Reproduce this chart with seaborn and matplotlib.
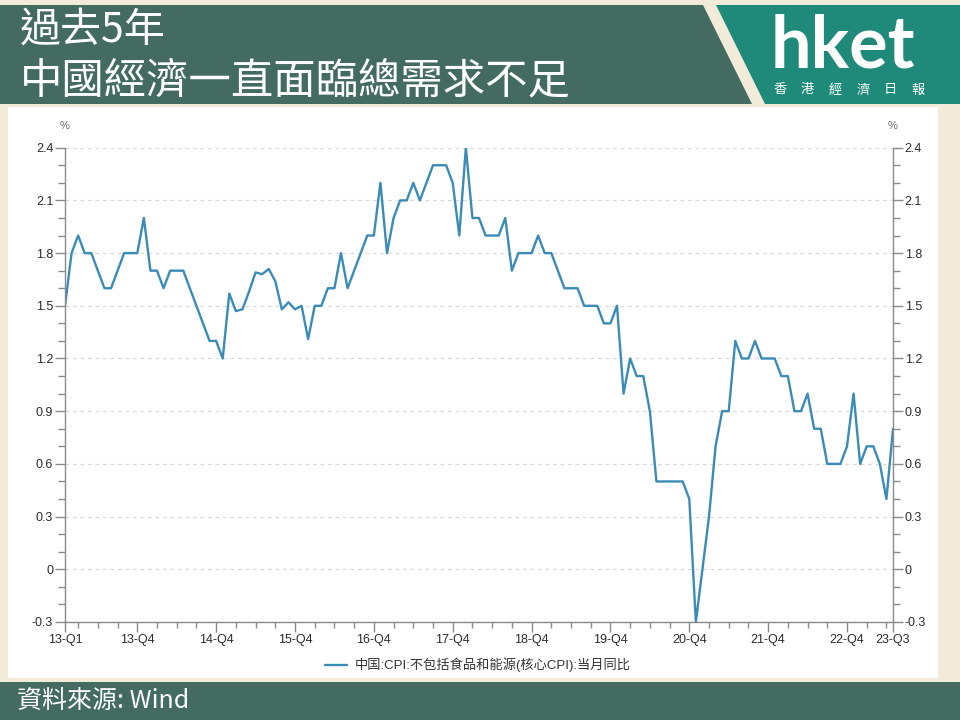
import numpy as np
import pandas as pd
import matplotlib
matplotlib.use("Agg")
import matplotlib.pyplot as plt
from matplotlib.patches import Polygon
from matplotlib.ticker import FixedLocator, MultipleLocator
import seaborn as sns

# data: China core CPI (ex food & energy), YoY %, monthly Jan 2013 - Jul 2023
core_cpi = [1.5, 1.8, 1.9, 1.8, 1.8, 1.7, 1.6, 1.6, 1.7, 1.8, 1.8, 1.8,
            2.0, 1.7, 1.7, 1.6, 1.7, 1.7, 1.7, 1.6, 1.5, 1.4, 1.3, 1.3,
            1.2, 1.57, 1.47, 1.48, 1.58, 1.69, 1.68, 1.71, 1.64, 1.48, 1.52, 1.48,
            1.5, 1.31, 1.5, 1.5, 1.6, 1.6, 1.8, 1.6, 1.7, 1.8, 1.9, 1.9,
            2.2, 1.8, 2.0, 2.1, 2.1, 2.2, 2.1, 2.2, 2.3, 2.3, 2.3, 2.2,
            1.9, 2.4, 2.0, 2.0, 1.9, 1.9, 1.9, 2.0, 1.7, 1.8, 1.8, 1.8,
            1.9, 1.8, 1.8, 1.7, 1.6, 1.6, 1.6, 1.5, 1.5, 1.5, 1.4, 1.4,
            1.5, 1.0, 1.2, 1.1, 1.1, 0.9, 0.5, 0.5, 0.5, 0.5, 0.5, 0.4,
            -0.3, 0.0, 0.3, 0.7, 0.9, 0.9, 1.3, 1.2, 1.2, 1.3, 1.2, 1.2,
            1.2, 1.1, 1.1, 0.9, 0.9, 1.0, 0.8, 0.8, 0.6, 0.6, 0.6, 0.7,
            1.0, 0.6, 0.7, 0.7, 0.6, 0.4, 0.8]
months = pd.date_range("2013-01-01", periods=len(core_cpi), freq="MS")
xtick_pos = [0, 11, 23, 35, 47, 59, 71, 83, 95, 107, 119, 126]
xtick_labels = ["13-Q1", "13-Q4", "14-Q4", "15-Q4", "16-Q4", "17-Q4",
                "18-Q4", "19-Q4", "20-Q4", "21-Q4", "22-Q4", "23-Q3"]
series_name = "中国:CPI:不包括食品和能源(核心CPI):当月同比"
title_lines = ["過去5年", "中國經濟一直面臨總需求不足"]
source_text = "資料來源: Wind"

df = pd.DataFrame({"month": months, "idx": np.arange(len(core_cpi)), "value": core_cpi})

sns.set_style("white")
plt.rcParams["font.family"] = ["Liberation Sans", "Noto Sans CJK SC", "DejaVu Sans"]

W, H = 960, 720
cream = "#f2ebda"
dark = "#436b61"
teal = "#1f8a7a"
blue = "#3a8bb5"

fig = plt.figure(figsize=(W / 100, H / 100), dpi=100, facecolor=cream)

def fx(px):
    return px / W

def fy(py):
    return 1 - py / H

def poly(pts, color):
    fig.patches.append(Polygon([(fx(a), fy(b)) for a, b in pts], closed=True,
                               transform=fig.transFigure, facecolor=color,
                               edgecolor="none", zorder=-5))

# header bands, white panel, footer
poly([(0, 5), (703, 5), (752, 104), (0, 104)], dark)
poly([(716, 5), (960, 5), (960, 104), (765, 104)], teal)
poly([(8, 107), (938, 107), (938, 678), (8, 678)], "white")
poly([(0, 682), (960, 682), (960, 720), (0, 720)], dark)

cjk = ["Noto Sans CJK TC", "DejaVu Sans"]
fig.text(fx(20), fy(30), title_lines[0], color="white", fontsize=29.5, va="center",
         family=cjk)
fig.text(fx(20), fy(81), title_lines[1], color="white", fontsize=30.5, va="center",
         family=cjk)
fig.text(fx(771), fy(68), "hket", color="white", fontsize=52, fontweight="bold",
         va="baseline", family=["Lato", "DejaVu Sans"])
for i, ch in enumerate("香港經濟日報"):
    fig.text(fx(780 + i * 27.6), fy(90), ch, color="white", fontsize=9.5,
             ha="center", va="center", family=cjk)
fig.text(fx(17), fy(701), source_text, color="white", fontsize=18, va="center",
         family=cjk)

# chart
ax = fig.add_axes([fx(65), fy(622), fx(893 - 65), (622 - 147.7) / H])
ax.set_facecolor("none")
sns.lineplot(data=df, x="idx", y="value", ax=ax, color=blue, linewidth=1.7,
             label=series_name)

ax.set_xlim(0, len(core_cpi) - 1)
ax.set_ylim(-0.3, 2.4)
yticks = np.round(np.arange(-0.3, 2.41, 0.3), 1)
ax.yaxis.set_major_locator(FixedLocator(yticks))
ax.yaxis.set_minor_locator(MultipleLocator(0.1))
ax.set_yticklabels([f"{v:g}" for v in yticks])
ax.xaxis.set_major_locator(FixedLocator(xtick_pos))
ax.set_xticklabels(xtick_labels)
minor_x = [m for m in range(2, len(core_cpi), 3) if m not in xtick_pos]
ax.xaxis.set_minor_locator(FixedLocator(minor_x))
ax.set_xlabel("")
ax.set_ylabel("")

ax.grid(axis="y", which="major", color="#d9d9d9", linestyle=(0, (3, 3)), linewidth=0.9)
ax.grid(axis="x", visible=False)

for side in ["left", "right", "bottom"]:
    ax.spines[side].set_visible(True)
    ax.spines[side].set_color("#8a8a8a")
    ax.spines[side].set_linewidth(1.0)
ax.spines["top"].set_visible(False)

ax.tick_params(axis="y", which="both", left=True, right=True, labelleft=True,
               labelright=True, direction="out", color="#8a8a8a", width=1)
ax.tick_params(axis="y", which="major", length=7, pad=1.5, labelsize=9,
               labelcolor="#2b2b2b")
ax.tick_params(axis="y", which="minor", length=5)
ax.tick_params(axis="x", which="both", bottom=True, direction="out",
               color="#8a8a8a", width=1)
ax.tick_params(axis="x", which="major", length=7, pad=2, labelsize=9,
               labelcolor="#2b2b2b")
ax.tick_params(axis="x", which="minor", length=4)

ax.text(0, 1.046, "%", transform=ax.transAxes, ha="center", va="center",
        fontsize=8, color="#666666")
ax.text(1, 1.046, "%", transform=ax.transAxes, ha="center", va="center",
        fontsize=8, color="#666666")

ax.legend(loc="center", bbox_to_anchor=(fx(478), fy(665)),
          bbox_transform=fig.transFigure, frameon=False, fontsize=9.5,
          handlelength=1.6, handletextpad=0.6, labelcolor="#333333")

fig.savefig("out.png", dpi=100, facecolor=cream)
